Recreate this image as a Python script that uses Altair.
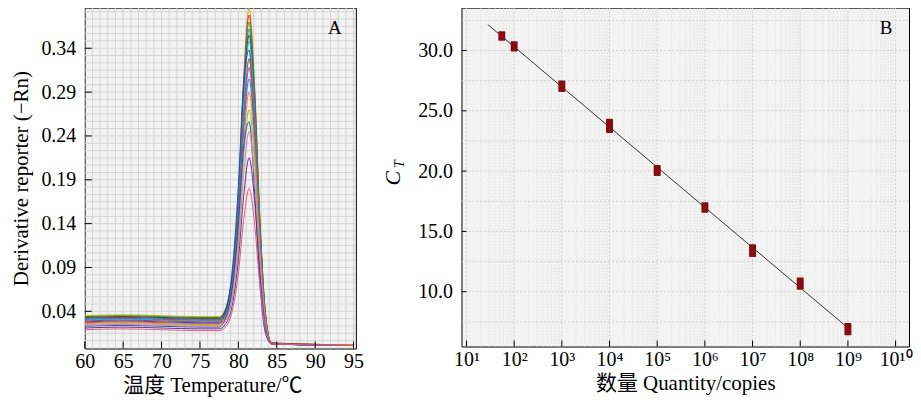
import altair as alt
import pandas as pd

# ---------------- Panel A: melt curves ----------------
melt_x = [60, 65, 70, 75, 77.5, 78.5, 79.3, 80.0, 80.7, 81.4, 82.1, 82.8, 83.5, 84.3, 88, 95]

c01 = [.035, .036, .035, .034, .034, .048, .090, .175, .309, .386, .302, .149, .041, .004, .002, .001]
c02 = [.032, .033, .032, .031, .031, .045, .087, .170, .302, .378, .296, .146, .041, .004, .002, .002]
c03 = [.034, .035, .034, .033, .033, .046, .087, .168, .296, .370, .289, .142, .040, .004, .003, .001]
c04 = [.031, .032, .031, .030, .030, .043, .083, .163, .289, .362, .283, .139, .039, .003, .002, .001]
c05 = [.033, .034, .033, .032, .032, .045, .084, .161, .284, .355, .278, .137, .038, .004, .002, .001]
c06 = [.030, .031, .030, .029, .029, .042, .080, .157, .278, .348, .272, .134, .037, .003, .002, .002]
c07 = [.028, .029, .028, .027, .027, .046, .095, .183, .301, .338, .238, .097, .020, .003, .002, .001]
c08 = [.029, .030, .029, .028, .028, .040, .076, .148, .262, .328, .257, .127, .036, .004, .003, .001]
c09 = [.027, .028, .027, .026, .026, .038, .073, .143, .254, .318, .249, .123, .035, .003, .002, .001]
c10 = [.031, .032, .031, .030, .030, .041, .074, .140, .245, .305, .239, .118, .033, .003, .002, .001]
c11 = [.026, .027, .026, .025, .025, .036, .067, .131, .232, .290, .227, .112, .032, .003, .002, .002]
c12 = [.025, .026, .025, .024, .024, .034, .063, .122, .216, .270, .211, .104, .030, .003, .002, .001]
c13 = [.023, .024, .023, .022, .022, .036, .073, .139, .228, .256, .180, .074, .016, .003, .002, .001]
c14 = [.024, .025, .024, .023, .023, .032, .059, .112, .196, .245, .192, .095, .027, .003, .002, .001]
c15 = [.021, .022, .021, .020, .020, .028, .051, .098, .172, .215, .168, .084, .024, .003, .002, .001]
c16 = [.019, .020, .019, .018, .018, .024, .044, .083, .144, .180, .141, .070, .021, .003, .002, .001]

curves = [c01, c02, c03, c04, c05, c06, c07, c08, c09, c10, c11, c12, c13, c14, c15, c16]
curve_colors = ["#c9b200", "#d62728", "#2ca02c", "#1a9988", "#3a3a3a", "#17becf", "#2848c8", "#c0392b",
                "#9b59b6", "#3b6fd8", "#ff7f0e", "#8cc63f", "#1f4fb4", "#e377c2", "#6b2c91", "#d9607a"]
curve_names = [f"c{i+1:02d}" for i in range(len(curves))]

a_tick_x = [60, 65, 70, 75, 80, 85, 90, 95]
a_tick_y = [0.04, 0.09, 0.14, 0.19, 0.24, 0.29, 0.34]
a_grid_x = list(range(60, 96))
a_grid_y = [round(0.04 + k * 0.05 / 6, 5) for k in range(-4, 42)]

# ---------------- Panel B: standard curve ----------------
qty = [55, 1e2, 1e3, 1e4, 1e5, 1e6, 1e7, 1e8, 1e9]
ct_hi = [31.6, 30.77, 27.52, 24.35, 20.5, 17.41, 13.94, 11.18, 7.41]
ct_lo = [30.8, 29.92, 26.55, 23.17, 19.6, 16.55, 12.87, 10.17, 6.39]
fit_qty = [28, 1e9]
fit_ct = [32.15, 7.0]

b_tick_x = [1e1, 1e2, 1e3, 1e4, 1e5, 1e6, 1e7, 1e8, 1e9, 1e10]
b_tick_y = [10, 15, 20, 25, 30]
b_grid_x = [m * 10 ** k for k in range(1, 10) for m in range(2, 10)]
b_grid_y = [7.5, 10, 12.5, 15, 17.5, 20, 22.5, 25, 27.5, 30, 32.5]

SERIF = "Liberation Serif, Noto Sans CJK SC"
W_A, H_A = 272, 342
W_B, H_B = 449, 340

# ---- Panel A chart ----
rows = []
for name, vals in zip(curve_names, curves):
    for xv, yv in zip(melt_x, vals):
        rows.append({"curve": name, "x": xv, "y": yv})
df_a = pd.DataFrame(rows)

xs_a = alt.Scale(domain=[60, 95.3], nice=False, zero=False)
ys_a = alt.Scale(domain=[-0.0024, 0.3863], nice=False, zero=False)
ax_a_x = alt.Axis(
    values=a_tick_x, tickCount=50, format="d", title="温度 Temperature/℃", grid=False,
    labelOverlap=False, labelFlush=False, labelPadding=3, titlePadding=3, titleX=128)
ax_a_y = alt.Axis(
    values=a_tick_y, tickCount=50, format=".2f", title="Derivative reporter (−Rn)", grid=False,
    labelOverlap=False, labelFlush=False, labelPadding=9, titlePadding=9)

grid_ax = alt.Chart(pd.DataFrame({"x": a_grid_x})).mark_rule(color="#d4d4d4", strokeWidth=1).encode(
    x=alt.X("x:Q", scale=xs_a, axis=ax_a_x))
grid_ay = alt.Chart(pd.DataFrame({"y": a_grid_y})).mark_rule(color="#d4d4d4", strokeWidth=1, clip=True).encode(
    y=alt.Y("y:Q", scale=ys_a, axis=ax_a_y))

lines_a = alt.Chart(df_a).mark_line(strokeWidth=1, interpolate="monotone", clip=True).encode(
    x=alt.X("x:Q", scale=xs_a, axis=ax_a_x),
    y=alt.Y("y:Q", scale=ys_a, axis=ax_a_y),
    color=alt.Color("curve:N", scale=alt.Scale(domain=curve_names, range=curve_colors), legend=None),
    detail="curve:N",
)

ticks_ax = alt.Chart(pd.DataFrame({"x": a_tick_x})).mark_rule(color="black", strokeWidth=1).encode(
    x=alt.X("x:Q", scale=xs_a, axis=ax_a_x), y=alt.value(H_A), y2=alt.value(H_A - 7))
ticks_ay = alt.Chart(pd.DataFrame({"y": a_tick_y})).mark_rule(color="black", strokeWidth=1).encode(
    y=alt.Y("y:Q", scale=ys_a, axis=ax_a_y), x=alt.value(0), x2=alt.value(7))
label_a = alt.Chart(pd.DataFrame({"t": ["A"]})).mark_text(
    font=SERIF, fontSize=19, color="black", align="center", baseline="middle").encode(
    text="t:N", x=alt.value(251), y=alt.value(20))

panel_a = alt.layer(grid_ax, grid_ay, lines_a, ticks_ax, ticks_ay, label_a).properties(
    width=W_A, height=H_A, view=alt.ViewBackground(fill="#f2f2f2", stroke="black", strokeWidth=1))

# ---- Panel B chart ----
xs_b = alt.Scale(type="log", domain=[10, 1.503e10], nice=False)
ys_b = alt.Scale(domain=[5.455, 33.554], nice=False, zero=False)

sup_expr = ("'10' + ['⁰','¹','²','³','⁴','⁵','⁶','⁷','⁸','⁹','¹⁰'][round(log(datum.value)/LN10)]")

ax_b_x = alt.Axis(
    values=b_tick_x, tickCount=50, labelExpr=sup_expr, title="数量 Quantity/copies", grid=False,
    labelOverlap=False, labelFlush=False, labelPadding=3, titlePadding=3)
ax_b_y = alt.Axis(
    values=b_tick_y, tickCount=50, format=".1f", title="", grid=False,
    labelOverlap=False, labelFlush=False, labelPadding=9)

grid_bx_major = alt.Chart(pd.DataFrame({"x": b_tick_x})).mark_rule(
    color="#d0d0d0", strokeWidth=1, strokeDash=[2, 2]).encode(x=alt.X("x:Q", scale=xs_b, axis=ax_b_x))
grid_bx = alt.Chart(pd.DataFrame({"x": b_grid_x})).mark_rule(
    color="#dadada", strokeWidth=1, strokeDash=[1, 2]).encode(x=alt.X("x:Q", scale=xs_b, axis=ax_b_x))
grid_by = alt.Chart(pd.DataFrame({"y": b_grid_y})).mark_rule(
    color="#d0d0d0", strokeWidth=1, strokeDash=[2, 2]).encode(y=alt.Y("y:Q", scale=ys_b, axis=ax_b_y))

fit_line = alt.Chart(pd.DataFrame({"x": fit_qty, "y": fit_ct})).mark_line(color="#333333", strokeWidth=1).encode(
    x=alt.X("x:Q", scale=xs_b, axis=ax_b_x),
    y=alt.Y("y:Q", scale=ys_b, axis=ax_b_y),
)

pts = alt.Chart(pd.DataFrame({"x": qty, "y": ct_lo, "y2": ct_hi})).mark_bar(
    size=7, color="#870c14", cornerRadius=1).encode(
    x=alt.X("x:Q", scale=xs_b, axis=ax_b_x), y=alt.Y("y:Q", scale=ys_b, axis=ax_b_y), y2="y2:Q")

ticks_bx = alt.Chart(pd.DataFrame({"x": b_tick_x})).mark_rule(color="black", strokeWidth=1).encode(
    x=alt.X("x:Q", scale=xs_b, axis=ax_b_x), y=alt.value(H_B), y2=alt.value(H_B - 6))
ticks_by = alt.Chart(pd.DataFrame({"y": b_tick_y})).mark_rule(color="black", strokeWidth=1).encode(
    y=alt.Y("y:Q", scale=ys_b, axis=ax_b_y), x=alt.value(0), x2=alt.value(5))
label_b = alt.Chart(pd.DataFrame({"t": ["B"]})).mark_text(
    font=SERIF, fontSize=19, color="black", align="center", baseline="middle").encode(
    text="t:N", x=alt.value(426), y=alt.value(20))
ct_c = alt.Chart(pd.DataFrame({"t": ["C"]})).mark_text(
    font=SERIF, fontSize=22, fontStyle="italic", color="black", align="center", baseline="middle", angle=270).encode(
    text="t:N", x=alt.value(-69), y=alt.value(171))
ct_t = alt.Chart(pd.DataFrame({"t": ["T"]})).mark_text(
    font=SERIF, fontSize=14, fontStyle="italic", color="black", align="center", baseline="middle", angle=270).encode(
    text="t:N", x=alt.value(-62), y=alt.value(157))

panel_b = alt.layer(grid_bx, grid_bx_major, grid_by, fit_line, pts, ticks_bx, ticks_by, label_b, ct_c, ct_t).properties(
    width=W_B, height=H_B, view=alt.ViewBackground(fill="#f3f3f3", stroke="black", strokeWidth=1))

chart = alt.hconcat(panel_a, panel_b, spacing=16).properties(
    padding={"left": 2, "top": -2, "right": 0, "bottom": 0}
).configure_axis(
    labelFont=SERIF, labelFontSize=20, labelColor="black",
    titleFont=SERIF, titleFontSize=21, titleFontWeight="normal", titleColor="black",
    domain=False, ticks=False, tickSize=0,
).configure_view(stroke="black")

chart.save("out.html", embed_options={"renderer": "svg", "actions": False})
